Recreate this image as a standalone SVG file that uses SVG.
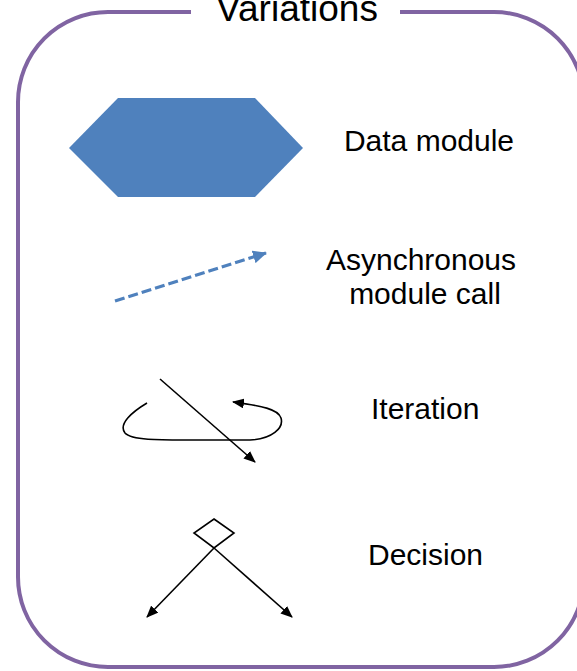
<svg xmlns="http://www.w3.org/2000/svg" width="577" height="671" viewBox="0 0 577 671">
  <style>
    .lbl { font-family: "Liberation Sans", Arial, sans-serif; font-size: 30px; fill: #000; }
    .frame { fill: none; stroke: #8064A2; stroke-width: 4; }
    .blk { fill: none; stroke: #000; stroke-width: 1.6; }
  </style>
  <defs>
    <marker id="arrBlk" markerUnits="userSpaceOnUse" markerWidth="12" markerHeight="10" refX="11" refY="5" orient="auto">
      <path d="M0,0 L12,5 L0,10 z" fill="#000"/>
    </marker>
    <marker id="arrBlue" markerUnits="userSpaceOnUse" markerWidth="14" markerHeight="13" refX="13" refY="6.5" orient="auto">
      <path d="M0,0 L14,6.5 L0,13 z" fill="#4F81BD"/>
    </marker>
  </defs>
  <rect width="577" height="671" fill="#fff"/>

  <g id="frame">
    <path class="frame" d="M191,12 L108,12 A90,90 0 0 0 18,102 L18,577 A90,90 0 0 0 108,667 L494,667 A90,90 0 0 0 584,577 L584,102 A90,90 0 0 0 494,12 L400,12"/>
    <text class="lbl" x="297" y="21" text-anchor="middle" style="font-size:37px">Variations</text>
  </g>

  <g id="data-module">
    <polygon points="69,148 118,98 255,98 303,148 255,197 118,197" fill="#4F81BD"/>
    <text class="lbl" x="429" y="151" text-anchor="middle">Data module</text>
  </g>

  <g id="async-call">
    <text class="lbl" x="421" y="270" text-anchor="middle">Asynchronous</text>
    <text class="lbl" x="425" y="304" text-anchor="middle">module call</text>
  </g>

  <g id="iteration">
    <text class="lbl" x="371" y="419">Iteration</text>
  </g>

  <g id="decision">
    <polygon points="214,519 234,533 214,548 194,533" fill="none" stroke="#000" stroke-width="1.6"/>
    <text class="lbl" x="368" y="565">Decision</text>
  </g>

  <g id="connectors">
    <line x1="115" y1="301" x2="266" y2="253" stroke="#4F81BD" stroke-width="3.2" stroke-dasharray="10,4" marker-end="url(#arrBlue)"/>
    <line class="blk" x1="160" y1="379" x2="255" y2="462" marker-end="url(#arrBlk)"/>
    <path class="blk" d="M147,403 C132,412 118,424 125,433 C132,441 165,440 200,440 L250,440 C272,439 284,428 281,418 C278,409 262,406 233,402" marker-end="url(#arrBlk)"/>
    <line class="blk" x1="214" y1="548" x2="147" y2="617" marker-end="url(#arrBlk)"/>
    <line class="blk" x1="214" y1="548" x2="292" y2="617" marker-end="url(#arrBlk)"/>
  </g>
</svg>
